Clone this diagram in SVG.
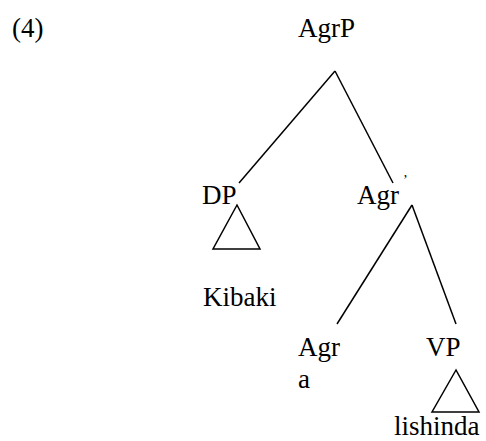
<svg xmlns="http://www.w3.org/2000/svg" width="486" height="441" viewBox="0 0 486 441">
<style>
text { font-family: "Liberation Serif", "Times New Roman", serif; font-size: 27px; fill: #000; }
.sm { font-size: 14px; }
line, polygon { stroke: #000; stroke-width: 1.5; fill: none; }
</style>
<rect width="486" height="441" fill="#fff"/>
<text id="label" x="12" y="37">(4)</text>
<g id="AgrP"><text x="298" y="37">AgrP</text></g>
<g id="DP"><text x="202" y="204">DP</text><polygon points="237,205 213,249 260,249"/></g>
<g id="Agrbar"><text x="357" y="204">Agr</text><text class="sm" x="403" y="185">’</text></g>
<g id="Kibaki"><text x="203" y="306">Kibaki</text></g>
<g id="Agr"><text x="298" y="356">Agr</text><text x="298" y="388">a</text></g>
<g id="VP"><text x="426" y="356">VP</text><polygon points="456,370 432,412 479,412"/></g>
<g id="lishinda"><text x="394" y="435">lishinda</text></g>
<g id="connectors">
<line x1="335" y1="71" x2="239" y2="183"/>
<line x1="335" y1="71" x2="393" y2="183"/>
<line x1="412" y1="205" x2="337" y2="324"/>
<line x1="412" y1="205" x2="456" y2="324"/>
</g>
</svg>
